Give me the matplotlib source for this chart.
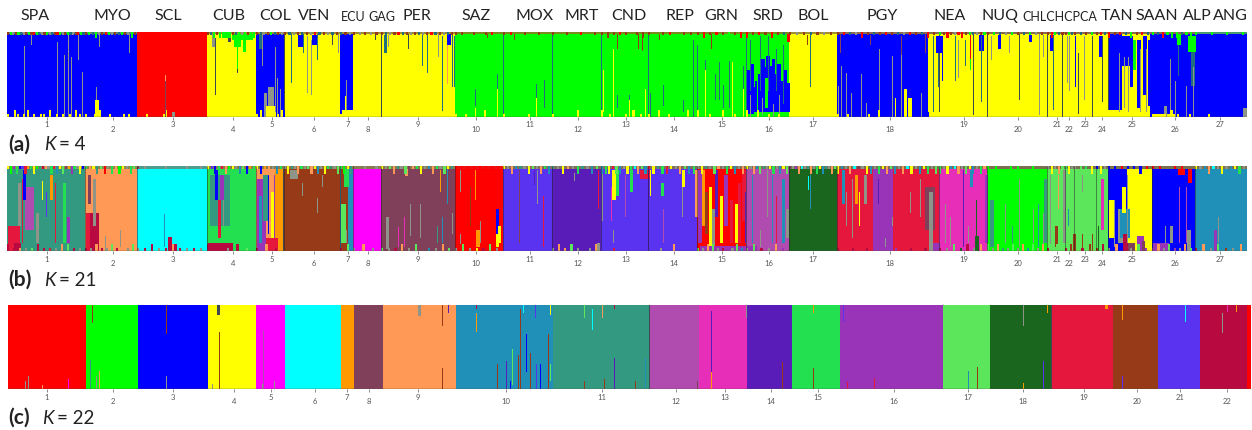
"""
STRUCTURE bar plots for 27 populations at K = 4, 21 and 22.
Each individual is one thin column, values read by eye from the published figure.
"""

import matplotlib
matplotlib.use("Agg")
import matplotlib.pyplot as plt

plt.rcParams["font.family"] = ["Lato", "DejaVu Sans"]

# cluster colours, one letter each
COLORS = {
    "r": "#ff0000", "g": "#00ff00", "b": "#0000ff", "y": "#ffff00", "m": "#ff00ff",
    "c": "#00ffff", "o": "#ff9900", "w": "#80405a", "s": "#ff9955", "t": "#2090b8",
    "e": "#339980", "h": "#b04cb0", "p": "#e62eb8", "i": "#5a1cb8", "l": "#22e050",
    "v": "#9933b8", "k": "#5ce65c", "d": "#1a661f", "n": "#e6173c", "z": "#963a17",
    "u": "#5a33f0", "x": "#b80a40", "a": "#8f9488", "f": "#3d4a50", "q": "#1f6f80",
}

pop_labels = ["SPA", "MYO", "SCL", "CUB", "COL", "VEN", "PER", "SAZ", "MOX", "MRT", "CND", "REP",
              "GRN", "SRD", "BOL", "PGY", "NEA", "NUQ", "TAN", "SAAN", "ALP", "ANG"]
pop_label_x = [35, 112, 168, 229, 275, 314, 417, 476, 535, 582, 629, 680,
               721, 768, 813, 882, 950, 1000, 1117, 1157, 1197, 1230]
small_labels = ["ECU", "GAG", "CHLCHCPCA"]
small_label_x = [353, 382, 1060]

# individual numbers where each population starts, last value closes the plot
edges_ab = [7, 85, 137, 207, 256, 284, 340, 353, 381, 455, 503, 552, 601, 648, 697, 746, 789, 837,
            939, 987, 1047, 1065, 1074, 1096, 1108, 1152, 1195, 1247]
ticks_ab = [47, 113, 173, 233, 272, 314, 348, 368, 418, 476, 530, 578, 626, 674, 722, 769, 813,
            890, 964, 1018, 1057, 1069, 1085, 1102, 1132, 1175, 1220]

edges_c = [8, 86, 138, 208, 256, 285, 341, 354, 383, 456, 553, 650, 699, 747, 792, 840, 943, 990,
           1052, 1113, 1158, 1200, 1247, 1251]
ticks_c = [47, 113, 173, 234, 271, 315, 347, 369, 418, 506, 602, 676, 725, 771, 818, 894, 968,
           1023, 1084, 1137, 1180, 1227]

# main cluster blocks: (first individual, last individual, cluster)
blocks_a = [(7, 137, "b"), (137, 207, "r"), (207, 256, "y"), (256, 285, "b"), (285, 340, "y"),
            (340, 353, "b"), (353, 455, "y"), (455, 789, "g"), (789, 837, "y"), (837, 928, "b"),
            (928, 1108, "y"), (1108, 1122, "b"), (1122, 1150, "y"), (1150, 1247, "b")]
blocks_b = [(7, 85, "e"), (85, 137, "s"), (137, 207, "c"), (207, 256, "l"), (256, 275, "s"),
            (275, 284, "o"), (284, 340, "z"), (340, 353, "t"), (353, 381, "m"), (381, 455, "w"),
            (455, 503, "r"), (503, 552, "u"), (552, 601, "i"), (601, 697, "u"), (697, 746, "r"),
            (746, 789, "h"), (789, 837, "d"), (837, 873, "n"), (873, 893, "v"), (893, 939, "n"),
            (939, 987, "p"), (987, 1047, "g"), (1047, 1108, "k"), (1108, 1127, "b"),
            (1127, 1152, "y"), (1152, 1195, "b"), (1195, 1247, "t")]
clusters_c = "rgbymcowstehpilvkdnzuxr"

# thin mixed strip along the top of the bar: (first individual, last individual, colour)
bands_a = [(7, 137, "#5f8a70"), (207, 455, "#a08a30"), (455, 789, "#7a8a20"), (789, 837, "#a09030"),
           (837, 1195, "#8a6a50"), (1195, 1247, "#4a9a70")]
bands_b = [(7, 137, "#8a8a50"), (137, 207, "#509a90"), (207, 455, "#8a7a50"), (455, 503, "#ee1111"),
           (503, 789, "#80705a"), (789, 1247, "#7a7050")]

# admixed columns: (individual, width, low, high, cluster), low and high are fractions of the bar
spikes_a = [
    (24, 1, 0, .83, "a"), (31, 1, .85, .98, "a"), (57, 1, 0, .88, "a"), (64, 1, 0, .73, "a"),
    (68, 1, 0, .96, "a"), (71, 1, 0, .70, "a"), (78, 1, .67, .96, "a"), (82, 1, 0, .53, "a"),
    (96, 1, 0, .35, "a"), (95, 3, 0, .2, "y"), (99, 1, .82, .98, "a"), (129, 1, .75, .98, "a"),
    (165, 1, 0, .49, "w"), (165, 1, .42, .49, "s"), (166, 1, 0, .08, "y"), (172, 2, 0, .05, "a"),
    (215, 1, .25, .93, "f"), (212, 2, .82, .98, "a"), (228, 2, .88, .98, "f"), (232, 16, .9, .98, "g"),
    (234, 5, .82, .95, "g"), (237, 1, .52, .85, "g"), (237, 1, .52, .56, "f"), (243, 2, .76, .9, "g"),
    (262, 1, .6, 1, "a"), (259, 2, .8, .98, "q"), (264, 2, 0, .28, "a"), (268, 2, 0, .35, "a"),
    (271, 2, 0, .35, "a"), (266, 8, 0, .12, "y"), (275, 1, .05, .82, "a"), (277, 1, 0, .45, "a"),
    (280, 1, 0, .33, "a"), (284, 1, .08, 1, "f"), (291, 1, .4, .98, "q"), (298, 4, .82, .97, "b"),
    (303, 1, .75, .98, "q"), (307, 1, .28, .95, "a"), (311, 1, .25, .9, "a"), (312, 4, .85, .96, "b"),
    (317, 1, .67, .98, "q"), (332, 1, .85, .97, "f"), (338, 1, .75, .98, "a"), (342, 10, 0, .08, "y"),
    (346, 1, 0, .43, "a"), (345, 1, 0, .24, "y"), (375, 1, .9, .98, "f"), (381, 1, 0, 1, "f"),
    (384, 2, .75, .97, "q"), (388, 1, .82, .97, "a"), (408, 1, .8, .98, "f"), (422, 1, .6, .98, "q"),
    (427, 1, .52, .98, "q"), (438, 1, .7, .98, "a"), (442, 1, .07, .95, "q"), (447, 1, .38, .95, "s"),
    (447, 3, .85, .98, "b"), (452, 1, .35, .98, "q"), (454, 1, .35, .95, "q"),
    (475, 1, .12, .32, "q"), (475, 1, 0, .1, "y"), (497, 1, .32, .5, "q"), (497, 1, 0, .32, "y"),
    (503, 1, 0, 1, "q"), (552, 1, 0, 1, "q"), (601, 1, 0, 1, "q"), (648, 1, 0, 1, "q"), (746, 1, 0, 1, "q"),
    (536, 1, .22, .38, "q"), (536, 1, 0, .22, "y"), (544, 1, .1, .43, "q"), (603, 1, .05, .55, "y"),
    (613, 1, 0, .8, "y"), (617, 1, .1, .25, "q"), (629, 1, 0, .2, "y"), (629, 1, .2, .25, "q"),
    (645, 1, 0, .32, "y"), (650, 1, 0, .28, "q"), (663, 1, .12, .37, "q"), (683, 1, .05, .2, "q"),
    (693, 1, 0, .9, "q"), (697, 1, .05, .85, "q"), (705, 1, 0, .55, "y"), (705, 1, .55, .67, "q"),
    (715, 1, .2, .5, "q"), (719, 1, .2, .65, "q"), (723, 1, .1, .37, "q"), (729, 1, .1, .66, "q"),
    (732, 1, 0, .65, "y"), (743, 1, .33, .6, "q"), (743, 1, 0, .33, "y"),
    (514, 1, .9, 1, "z"), (487, 1, .93, 1, "z"), (617, 1, .8, 1, "z"), (638, 1, .8, .98, "z"),
    (642, 1, .78, .98, "z"), (711, 1, .8, .98, "z"), (659, 1, .9, 1, "z"),
    # SRD columns, blue rises unevenly into the green
    (747, 3, .03, .55, "b"), (750, 3, .03, .62, "b"), (753, 2, .05, .35, "b"), (755, 3, .05, .42, "b"),
    (758, 3, .05, .5, "b"), (761, 3, .05, .68, "b"), (764, 2, .05, .58, "b"), (766, 3, .05, .72, "b"),
    (769, 3, .05, .6, "b"), (772, 2, .05, .68, "b"), (774, 3, .05, .5, "b"), (777, 3, .05, .62, "b"),
    (780, 3, .05, .42, "b"), (783, 3, .05, .55, "b"), (786, 3, .05, .4, "b"),
    (750, 1, .3, .9, "q"), (760, 1, .3, .95, "q"), (768, 1, .3, .95, "q"),
    (776, 1, .3, .8, "q"), (783, 1, .15, .85, "q"), (757, 1, .05, .5, "g"), (765, 2, .1, .45, "g"),
    (750, 1, 0, .25, "a"), (762, 1, .02, .22, "a"), (773, 1, 0, .15, "a"),
    (779, 1, .02, .25, "a"), (787, 2, .88, 1, "r"), (810, 1, .35, .98, "q"), (807, 1, .85, .97, "z"),
    (838, 1, 0, .36, "a"), (840, 1, .75, 1, "w"), (841, 1, 0, .6, "a"), (846, 1, 0, .52, "a"),
    (851, 1, 0, .28, "a"), (861, 1, 0, .5, "a"), (866, 1, 0, .16, "a"), (870, 1, .85, .97, "w"),
    (879, 1, 0, .8, "a"), (892, 1, 0, .72, "a"), (895, 1, 0, .22, "y"), (901, 1, .73, .95, "w"),
    (901, 1, 0, .73, "a"), (904, 2, 0, .33, "y"), (908, 3, 0, .22, "y"), (921, 1, 0, .28, "a"),
    (925, 1, .75, 1, "w"), (924, 4, 0, .05, "b"),
    (933, 1, .05, .95, "q"), (938, 1, .35, .9, "q"), (939, 1, .05, .98, "f"), (936, 5, .75, .95, "b"),
    (942, 1, .42, .9, "b"), (955, 1, .42, .95, "q"), (958, 1, .45, .9, "a"), (965, 1, .6, .9, "q"),
    (970, 1, .68, .98, "r"), (970, 1, .55, .68, "g"), (973, 1, .02, 1, "f"), (979, 4, .78, .97, "b"),
    (981, 1, .17, .95, "q"), (987, 1, 0, 1, "f"), (991, 1, .67, .95, "a"), (998, 2, .8, .97, "b"),
    (1009, 1, .75, .95, "a"), (1019, 1, .2, .98, "f"), (1029, 2, .88, .97, "b"), (1039, 1, .02, 1, "a"),
    (1043, 1, .7, .96, "a"), (1047, 1, 0, 1, "f"), (1050, 3, .78, .97, "b"), (1053, 1, .08, .95, "q"),
    (1062, 1, 0, 1, "f"), (1067, 1, .4, .95, "a"), (1069, 1, .3, .95, "a"), (1075, 1, .35, .95, "b"),
    (1078, 1, .03, .75, "f"), (1084, 1, .2, .95, "a"), (1092, 1, 0, .95, "f"), (1099, 2, .7, .95, "b"),
    (1102, 1, .17, .95, "f"), (1108, 1, 0, 1, "f"), (1108, 12, 0, .08, "y"),
    (1122, 6, .6, .95, "b"), (1119, 1, .05, .75, "a"), (1124, 1, .1, .7, "a"), (1128, 1, .05, .7, "a"),
    (1130, 2, .35, .95, "b"), (1133, 2, .55, .9, "g"), (1137, 3, .1, .9, "b"), (1140, 1, .05, .8, "a"),
    (1143, 3, .25, .95, "b"), (1146, 1, .05, .8, "a"), (1148, 2, .12, .9, "b"),
    (1152, 18, 0, .03, "y"), (1164, 2, 0, .12, "a"), (1170, 1, 0, .68, "a"), (1177, 3, .85, .98, "g"),
    (1178, 1, .48, .85, "q"), (1175, 1, 0, .42, "a"), (1188, 6, .76, .95, "g"), (1191, 3, .36, .76, "q"),
    (1186, 1, 0, .36, "a"), (1193, 1, 0, .58, "a"), (1243, 3, 0, .1, "a"),
]

spikes_b = [
    (8, 9, 0, .3, "n"), (25, 7, .25, .75, "h"), (22, 1, .1, .85, "n"), (23, 2, .6, .95, "b"),
    (18, 2, .3, .8, "a"), (42, 1, .6, .82, "y"), (50, 2, .6, .9, "o"), (55, 1, .1, .8, "n"),
    (63, 2, .1, .8, "l"), (67, 2, .1, .4, "v"), (36, 2, .1, .45, "a"), (46, 1, .4, .7, "u"),
    (14, 5, 0, .1, "x"),
    (86, 4, 0, .45, "n"), (90, 7, 0, .45, "x"), (93, 2, .3, .85, "a"), (88, 2, .55, .9, "w"),
    (120, 1, .05, .25, "a"), (105, 1, 0, .18, "a"), (122, 2, .82, .95, "s"),
    (164, 1, .05, .43, "t"), (168, 3, 0, .16, "x"), (174, 2, 0, .08, "x"),
    (208, 19, 0, .1, "x"), (210, 15, .3, .9, "e"), (215, 2, .6, .95, "b"), (218, 2, .15, .6, "n"),
    (223, 1, .3, .9, "a"), (220, 3, .6, .9, "v"),
    (257, 7, .0, .85, "v"), (259, 2, .1, .65, "t"), (263, 4, .35, .9, "e"), (268, 1, .2, .9, "b"),
    (271, 2, .15, .7, "y"), (274, 1, 0, .9, "v"), (266, 9, 0, .15, "n"), (283, 1, 0, 1, "f"),
    (317, 1, .45, .62, "a"), (302, 1, .65, .8, "a"), (290, 6, .85, .95, "a"), (322, 1, .75, .9, "a"),
    (341, 5, 0, 1, "z"), (341, 4, .1, .55, "k"), (346, 1, .1, .25, "a"), (344, 4, .75, .97, "l"),
    (386, 2, .02, .4, "a"), (398, 1, .05, .28, "p"), (404, 1, .05, .4, "p"), (410, 1, .18, .55, "a"),
    (405, 2, .88, .97, "s"), (420, 1, .15, .55, "a"), (440, 1, .7, .95, "o"), (447, 1, .55, .97, "t"),
    (442, 1, .1, .4, "t"), (452, 1, .2, .45, "a"), (437, 1, .1, .3, "e"),
    (460, 1, .08, .2, "a"), (470, 1, .3, .75, "z"), (475, 1, .6, .95, "o"), (476, 3, .05, .25, "o"),
    (480, 1, .1, .35, "a"), (496, 2, .2, .5, "b"), (496, 2, .05, .2, "y"), (498, 2, .1, .3, "y"),
    (460, 1, .7, .95, "a"),
    (519, 1, .1, .95, "w"), (537, 1, .55, .95, "a"), (543, 1, .05, .65, "n"), (534, 1, .78, .95, "i"),
    (552, 2, 0, 1, "i"), (598, 1, .5, .95, "n"), (574, 1, .82, .92, "a"), (597, 2, 0, .1, "a"),
    (602, 1, .35, .95, "a"), (612, 3, .6, .95, "y"), (611, 1, .35, .75, "p"), (616, 2, .65, .95, "l"),
    (613, 1, .1, .25, "a"), (625, 1, .4, .9, "h"), (630, 2, .7, .95, "l"), (640, 8, .85, .95, "n"),
    (650, 1, .65, .95, "y"), (648, 1, 0, 1, "i"), (661, 2, .65, .8, "l"), (663, 1, .1, .5, "h"),
    (682, 2, .75, .95, "y"), (682, 1, .4, .75, "a"), (695, 2, .4, .95, "s"),
    (698, 3, .1, .95, "v"), (702, 2, .3, .95, "o"), (705, 2, .2, .7, "z"), (709, 2, .05, .75, "y"),
    (712, 2, .05, .5, "a"), (715, 2, .4, .95, "i"), (720, 2, .1, .65, "y"), (724, 3, .3, .9, "v"),
    (730, 2, .1, .6, "n"), (735, 2, .1, .55, "y"), (738, 2, .1, .8, "n"), (742, 3, .35, .95, "n"),
    (745, 1, .1, .7, "i"), (700, 44, .0, .06, "v"),
    (752, 1, .1, .9, "t"), (760, 1, .05, .25, "a"), (772, 1, .1, .9, "t"), (776, 1, .1, .65, "n"),
    (782, 2, .1, .85, "t"), (786, 2, .15, .5, "a"), (767, 1, .4, .95, "a"),
    (810, 1, .5, .9, "t"), (808, 1, .72, .88, "c"),
    (838, 3, .05, .85, "n"), (842, 2, .55, .95, "t"), (846, 1, .3, .7, "a"), (852, 1, .15, .85, "a"),
    (855, 2, .55, .9, "o"), (859, 1, .3, .7, "y"), (864, 2, .55, .9, "a"), (878, 1, .55, .85, "i"),
    (885, 1, .05, .15, "a"), (892, 1, .3, .4, "a"), (910, 1, .45, .7, "a"), (920, 1, .4, .85, "a"),
    (925, 8, .25, .75, "w"), (929, 3, 0, .7, "a"), (933, 5, 0, .1, "v"),
    (945, 1, .1, .55, "a"), (950, 1, .05, .4, "a"), (963, 1, .05, .95, "i"), (970, 2, .75, .95, "t"),
    (975, 3, 0, .18, "d"), (976, 1, .05, .6, "d"), (968, 1, .1, .3, "a"), (985, 2, .1, .9, "v"),
    (990, 3, .05, .6, "e"), (1005, 1, .1, .55, "a"), (1012, 1, .1, .3, "e"), (1019, 1, .05, .85, "a"),
    (1033, 1, .1, .5, "a"), (1038, 1, .05, .55, "t"), (1043, 1, .05, .45, "a"), (1044, 2, .1, .85, "e"),
    (1050, 1, .08, .9, "a"), (1055, 2, .05, .3, "z"), (1058, 1, .5, .9, "s"), (1063, 2, .1, .95, "a"),
    (1068, 1, .3, .5, "t"), (1073, 2, 0, .2, "z"), (1082, 1, 0, .2, "z"), (1082, 1, .7, .9, "a"),
    (1092, 1, 0, .2, "z"), (1101, 2, .25, .85, "p"), (1098, 1, 0, .3, "d"),
    (1109, 4, .15, .6, "y"), (1114, 1, .05, .6, "a"), (1118, 4, .1, .5, "a"), (1120, 8, .15, .5, "t"),
    (1122, 3, .45, .75, "y"), (1123, 4, 0, .2, "x"), (1127, 1, .1, .9, "a"), (1128, 5, 0, .1, "w"),
    (1137, 5, 0, .18, "v"), (1142, 2, 0, .12, "w"),
    (1153, 12, 0, .1, "v"), (1165, 1, .1, .3, "a"), (1179, 1, .1, .75, "h"), (1186, 1, .1, .75, "h"),
    (1187, 3, 0, .25, "a"), (1178, 5, .9, 1, "r"), (1188, 3, .8, 1, "r"), (1170, 2, .1, .3, "a"),
    (1214, 2, 0, .25, "v"), (1218, 1, .1, .4, "a"),
]

spikes_c = [
    (25, 1, 0, .1, "a"), (28, 1, 0, .15, "a"), (42, 1, 0, .05, "s"), (68, 1, 0, .12, "m"),
    (90, 1, 0, .35, "e"), (92, 1, .78, 1, "z"), (96, 1, 0, .15, "a"), (99, 1, 0, .22, "s"),
    (166, 1, .65, 1, "z"), (166, 1, 0, .15, "a"), (217, 2, .88, 1, "f"), (219, 1, 0, .68, "z"),
    (212, 1, 0, .06, "a"), (263, 1, 0, .7, "h"), (274, 1, 0, .1, "a"), (262, 1, 0, .06, "a"),
    (418, 2, .87, 1, "a"), (442, 1, .75, 1, "z"), (442, 1, 0, .25, "z"), (448, 1, .9, 1, "i"),
    (476, 1, .68, .9, "o"), (476, 1, .95, 1, "x"), (497, 1, 0, .3, "z"), (506, 1, 0, .33, "i"),
    (510, 1, 0, .1, "b"), (512, 1, .05, .48, "k"), (518, 1, 0, .4, "z"), (520, 1, 0, .95, "z"),
    (523, 1, .9, 1, "c"), (526, 1, .2, .65, "b"), (530, 1, 0, .43, "z"), (535, 1, .85, 1, "u"),
    (536, 1, 0, .3, "u"), (540, 1, 0, .3, "b"), (548, 1, 0, .65, "z"), (550, 1, .1, .3, "k"),
    (550, 1, .88, 1, "y"), (592, 1, .7, .95, "c"), (584, 1, .85, 1, "k"), (584, 1, 0, .1, "z"),
    (602, 1, .85, 1, "s"), (604, 1, 0, .12, "z"), (614, 1, 0, .37, "i"), (614, 1, .95, 1, "x"),
    (635, 1, 0, .1, "z"), (645, 1, 0, .37, "t"), (649, 1, 0, 1, "f"), (697, 1, 0, .1, "w"),
    (711, 1, 0, .93, "i"), (711, 1, 0, .2, "o"), (746, 1, .85, 1, "a"), (782, 1, 0, .32, "z"),
    (813, 1, 0, .25, "z"), (813, 1, .9, 1, "o"), (843, 1, .8, 1, "u"), (847, 1, 0, .08, "n"),
    (874, 1, 0, .13, "n"), (968, 1, 0, .22, "t"), (977, 1, 0, .26, "z"), (1023, 1, .75, 1, "a"),
    (1023, 1, 0, .07, "o"), (1043, 1, 0, .33, "u"), (1047, 1, .9, 1, "o"), (1051, 1, 0, 1, "f"),
    (1105, 2, .95, 1, "o"), (1122, 1, .82, 1, "o"), (1122, 1, 0, .15, "u"), (1185, 1, .8, 1, "c"),
    (1222, 1, .67, .9, "a"), (1227, 1, .92, 1, "p"), (1236, 1, .92, 1, "o"),
]

# top and bottom noise, one string per population, capitals reach deeper, "." is clean
top_a = ["zgazgqazgzrgqazgaqzrgazgqazrgq", "zgqGazrgazqgzaGz", "........", "zqGzGGGGzqgaGzgG",
         "zqazgqza", "zqazqzarqzaqz", "qza", "zazaz", "zqazrqzazqazrqzaqz", "zz.z.zr.", "zr.z.z.",
         "z.z.r.z", "zZzrz.zZ", "z.zr.zz", "zRzrzgzR", "RzrzRzq", "zazqzaz", "zrqaRzqzrzqarzqRz",
         "gzRzarRzgqazg", "zgqagzqgaz", "zRgqz", "zgq", "zqzg", "zrq", "RzrqGzrq", "gqRgGGqgG", "g..g..g..g"]
top_b = ["yGvLbuNolYgExsaLnTyKwoVlaYb", "lSyEkRaLsGyaLk", "wa..a..a.a", "yuBLnSgyaTkBoL", "yBoSaTl",
         "aYeaSlakSyTaYleaK", "lGyE", "..a.a", "yakSeaKwslYatSlaKye", "rrrrrrrr", "yaSteaYkaSlT", "eaYsaLeaTk",
         "TLYnKTaYLcSkT", "nYeLNyaSkTL", "aYeaKsaLyTaS", "yaStKeayLaTyK", "wavScaeSaLyTeaSk",
         "YtaScwaYTaLySkTaScYaTyLaK", "LaYtcSaKyTaLs", "gg.gg.g.", "aYaSk", "lYa", "aKlY", "bYa",
         "bbrbbBr", "rr.rr.", "yaTScaYaTyLa"]
bot_a = ["y.Yy.yY.y.yy.Y.y.y.y.Yy.", "y.yY.y..yy.", ".y.y....", "........", "yY.yY.yY", "......", "yYy", "",
         "...y", "yy.Y.", "y.y.", "y.Y.", "Yy.yYy", "yYy.Y", "YyYy", "YYyy", "....", "yy.yY..y.y",
         "....", "....", "", "", "", "", "yYy", "y.yYy.y", ".y.."]
bot_b = ["XxsakXxnaSKxa", "xaSxaKxsaK", "axXaxSxaxa", "XxaXk", "xSx", "..", "xK", "aSa", "kaxSaKwtaSk", "aKayxKa",
         "....", "aSsKa.aS", ".n..", ".aS.", "kaSKaxvaKt", "aKxaSv", "....", "xxxvvxx", "xaKdXaS", "KaSeaKaStKaS",
         "xK", "xZ", "zxZ", "zX", "aSxaKv", "vSaKvaSk", "xSaKzaS"]
depth_top = {"a": .03, "b": .04}
depth_bot = {"a": .03, "b": .035}

panel_text = ["(a)", "(b)", "(c)"]
panel_k = ["= 4", "= 21", "= 22"]


def draw_noise(ax, edges, strings, depth, top):
    """Cut each population in equal chunks and draw one thin column per letter."""
    for pop, text in enumerate(strings):
        if not text:
            continue
        step = (edges[pop + 1] - edges[pop]) / len(text)
        for i, ch in enumerate(text):
            if ch == ".":
                continue
            h = depth * 2.4 if ch.isupper() else depth
            low = 1 - h if top else 0
            ax.bar(edges[pop] + i * step, h, width=min(step, 2.2), bottom=low, align="edge",
                   color=COLORS[ch.lower()], linewidth=0)


def draw_panel(ax, blocks, spikes, edges, ticks, x_end):
    """One bar plot: clusters first, then admixed columns and the population lines."""
    for start, end, key in blocks:
        ax.bar(start, 1, width=end - start, align="edge", color=COLORS[key], linewidth=0)
    for ind, width, low, high, key in spikes:
        ax.bar(ind, high - low, width=width * 1.3, bottom=low, align="edge", color=COLORS[key], linewidth=0)
    ax.axhline(0, color="#55503a", lw=1.0, zorder=5)
    ax.set_xlim(edges[0], x_end)
    ax.set_ylim(0, 1)
    ax.set_xticks(ticks)
    ax.set_xticklabels([])
    ax.set_yticks([])
    ax.tick_params(axis="x", length=2, width=0.6, color="#777777")
    for side in ax.spines.values():
        side.set_visible(False)
    for i, pos in enumerate(ticks):
        # numbers are staggered in the original
        ax.annotate(str(i + 1), (pos, 0), xytext=(0, -6 if i % 2 == 0 else -9),
                    textcoords="offset points", ha="center", va="center",
                    fontsize=5.5, color="#555555")


def draw_bands(ax, bands, depth):
    for start, end, colour in bands:
        ax.bar(start, depth, width=end - start, bottom=1 - depth, align="edge", color=colour, linewidth=0)


def px_axes(fig, left, top, right, bottom):
    """Axes placed by pixel box on the 1252x430 canvas."""
    return fig.add_axes([left / 1252, 1 - bottom / 430, (right - left) / 1252, (bottom - top) / 430])


fig = plt.figure(figsize=(12.52, 4.30), dpi=100)

ax_a = px_axes(fig, 7, 32, 1247, 116.5)
draw_panel(ax_a, blocks_a, spikes_a, edges_ab, ticks_ab, 1247)
draw_bands(ax_a, bands_a, .02)
draw_noise(ax_a, edges_ab, top_a, depth_top["a"], True)
draw_noise(ax_a, edges_ab, bot_a, depth_bot["a"], False)

ax_b = px_axes(fig, 7, 166, 1247, 251)
draw_panel(ax_b, blocks_b, spikes_b, edges_ab, ticks_ab, 1247)
draw_bands(ax_b, bands_b, .03)
draw_noise(ax_b, edges_ab, top_b, depth_top["b"], True)
draw_noise(ax_b, edges_ab, bot_b, depth_bot["b"], False)
ax_b.vlines(edges_ab[1:-1], 0, 1, color="#222222", lw=0.5, alpha=0.7)

ax_c = px_axes(fig, 8, 305, 1251, 389)
blocks_c = [(edges_c[i], edges_c[i + 1], clusters_c[i]) for i in range(len(clusters_c))]
draw_panel(ax_c, blocks_c, spikes_c, edges_c, ticks_c, 1251)

# population names above the top panel
for name, x in zip(pop_labels, pop_label_x):
    fig.text(x / 1252, 1 - 16 / 430, name, fontsize=11.5, ha="center", va="center", color="#222222")
for name, x in zip(small_labels, small_label_x):
    fig.text(x / 1252, 1 - 17 / 430, name, fontsize=9, ha="center", va="center", color="#222222")

for tag, k_text, y, k_x in zip(panel_text, panel_k, [145, 280, 418], [44, 44, 42]):
    fig.text(8 / 1252, 1 - y / 430, tag, fontsize=15, fontweight="bold", va="center", color="#222222")
    fig.text(k_x / 1252, 1 - y / 430, "K", fontsize=13.5, style="italic", va="center", color="#222222")
    fig.text((k_x + 15) / 1252, 1 - y / 430, k_text, fontsize=13.5, va="center", color="#222222")

fig.savefig("out.png", dpi=100)
